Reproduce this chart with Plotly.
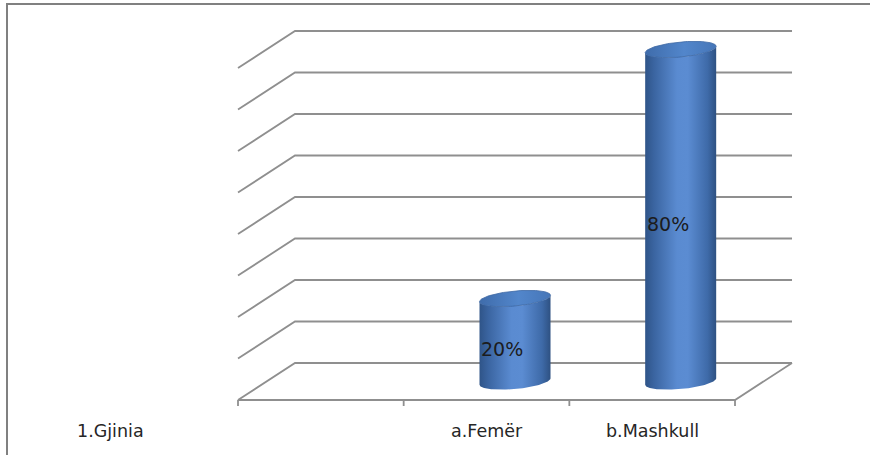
import numpy as np
import plotly.graph_objects as go

# ---- data -------------------------------------------------------------
group_label = "1.Gjinia"
categories = ["1.Gjinia", "a.Femër", "b.Mashkull"]
shares = [None, 20, 80]                     # percent of respondents
grid_values = [0, 10, 20, 30, 40, 50, 60, 70, 80]
value_labels = ["", "20%", "80%"]

# ---- oblique 3-D projection expressed in axis units --------------------
W, H = 870, 455
PX_CAT = 165.67          # pixels per category slot
PX_VAL = 4.15            # pixels per percent
X0_PX, Y0_PX = 238, 400  # front-left corner of the floor
DEPTH_X = 57 / PX_CAT    # shift of the back wall along x
DEPTH_Y = 37 / PX_VAL    # shift of the back wall along y
N = len(categories)

R_X = 35.5 / PX_CAT      # cylinder radius
R_Y = 7.5 / PX_VAL       # half height of the elliptic caps
TILT = 0.09 * PX_CAT / PX_VAL

fig = go.Figure()

# back wall gridlines, left wall diagonals and the floor
gx, gy = [], []
for g in grid_values:
    gx += [0, DEPTH_X, N + DEPTH_X, None]
    gy += [g, g + DEPTH_Y, g + DEPTH_Y, None]
gx += [0, N, N + DEPTH_X, None]
gy += [0, 0, DEPTH_Y, None]
tick_len = 6 / PX_VAL
for k in range(N + 1):
    gx += [k, k, None]
    gy += [0, -tick_len, None]
fig.add_trace(go.Scatter(x=gx, y=gy, mode="lines",
                         line=dict(color="#8f8f8f", width=1.8),
                         hoverinfo="skip", showlegend=False))

body_scale = [[0.0, "#2f5488"], [0.12, "#3a64a0"], [0.45, "#5a8bd1"],
              [0.6, "#5b8cd2"], [0.88, "#3e6aa8"], [1.0, "#2e5182"]]
cap_scale = [[0.0, "#3f6cab"], [0.55, "#5286cb"], [1.0, "#4676b8"]]

for i, v in enumerate(shares):
    if v is None:
        continue
    cx = i + 0.5 + 0.5 * DEPTH_X
    y0 = 0.5 * DEPTH_Y
    y1 = v + 0.5 * DEPTH_Y
    t = np.linspace(0, np.pi, 80)

    # body: bottom front arc, right side, top front arc back to the left
    bx = cx - R_X * np.cos(t)
    by = y0 - R_Y * np.sin(t) + TILT * (bx - cx)
    tx = cx + R_X * np.cos(t)
    ty = y1 - R_Y * np.sin(t) + TILT * (tx - cx)
    xs = np.concatenate([bx, tx, [bx[0]]])
    ys = np.concatenate([by, ty, [by[0]]])
    fig.add_trace(go.Scatter(x=xs, y=ys, mode="lines", fill="toself",
                             line=dict(width=0, color="rgba(0,0,0,0)"),
                             fillgradient=dict(type="horizontal", colorscale=body_scale),
                             hoverinfo="skip", showlegend=False))

    # top cap
    tt = np.linspace(0, 2 * np.pi, 120)
    ex = cx + R_X * np.cos(tt)
    ey = y1 + R_Y * np.sin(tt) + TILT * (ex - cx)
    fig.add_trace(go.Scatter(x=ex, y=ey, mode="lines", fill="toself",
                             line=dict(width=0.8, color="#3c67a3"),
                             fillgradient=dict(type="horizontal", colorscale=cap_scale),
                             hoverinfo="skip", showlegend=False))

    # value label inside the cylinder
    fig.add_annotation(x=i + 0.5 + 0.27 * DEPTH_X, y=v / 2 + 0.27 * DEPTH_Y,
                       text=value_labels[i], showarrow=False,
                       xanchor="center", yanchor="middle",
                       font=dict(family="DejaVu Sans", size=19, color="#1c1c1c"))

# category labels under the floor
label_y = -31 / PX_VAL
for i, c in enumerate(categories):
    if shares[i] is None:
        continue
    fig.add_annotation(x=i + 0.5, y=label_y, text=c, showarrow=False,
                       xanchor="center", yanchor="middle",
                       font=dict(family="DejaVu Sans", size=17.5, color="#262626"))
fig.add_annotation(x=110 / W, xref="paper", y=label_y, text=group_label,
                   showarrow=False, xanchor="center", yanchor="middle",
                   font=dict(family="DejaVu Sans", size=17.5, color="#262626"))

# chart area frame (left and top edges)
fig.add_shape(type="line", xref="paper", yref="paper",
              x0=7 / W, x1=7 / W, y0=0, y1=1 - 4 / H,
              line=dict(color="#808080", width=2))
fig.add_shape(type="line", xref="paper", yref="paper",
              x0=6 / W, x1=1, y0=1 - 4 / H, y1=1 - 4 / H,
              line=dict(color="#808080", width=2))

fig.update_layout(
    width=W, height=H,
    margin=dict(l=0, r=0, t=0, b=0),
    paper_bgcolor="white", plot_bgcolor="white",
    xaxis=dict(range=[-X0_PX / PX_CAT, (W - X0_PX) / PX_CAT],
               visible=False, fixedrange=True),
    yaxis=dict(range=[-(H - Y0_PX) / PX_VAL, Y0_PX / PX_VAL],
               visible=False, fixedrange=True),
    showlegend=False,
)

fig.write_html("out.html")
